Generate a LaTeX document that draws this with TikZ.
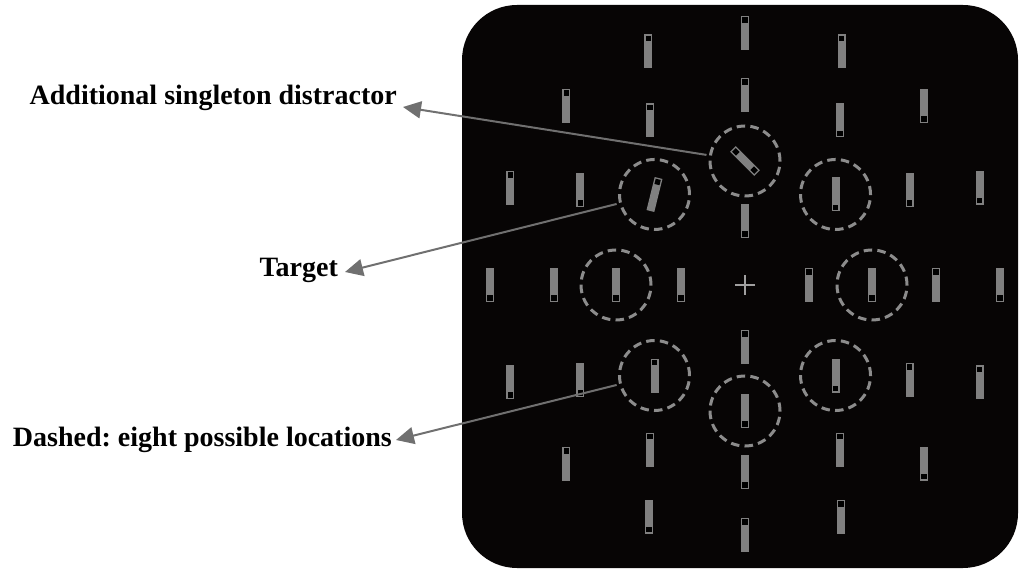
\documentclass[tikz,border=0pt]{standalone}
\usepackage{fontspec}
\setmainfont{Liberation Serif}
\usetikzlibrary{arrows.meta}
\frenchspacing
\definecolor{bgblack}{HTML}{070505}
\definecolor{bargray}{HTML}{808080}
\definecolor{circgray}{HTML}{8C8C8C}
\definecolor{arrgray}{HTML}{707070}
\definecolor{crossgray}{HTML}{A0A0A0}
\newcommand\stimbar[3]{%
  \begin{scope}[shift={#1},rotate=#2]
    \fill[bargray] (-4,-17) rectangle (4,17);
    \ifnum#3>-1 \fill[black] (-2.6,10.2) rectangle (2.6,15.6);\fi
    \ifnum#3<1 \fill[black] (-2.6,-15.6) rectangle (2.6,-10.2);\fi
  \end{scope}}
\begin{document}
\begin{tikzpicture}[x=1pt,y=1pt,
  loc/.style={circle, draw=circgray, dash pattern=on 8.5pt off 5.2pt, line width=3pt,
    minimum size=70pt, inner sep=0pt, outer sep=4pt},
  lab/.style={font=\fontsize{28}{30}\selectfont\bfseries, inner sep=0pt, anchor=base east},
  arr/.style={draw=arrgray, line width=2pt, -{Triangle[length=18pt,width=17pt]}, fill=arrgray}]
\useasboundingbox (0,0) rectangle (1019,570);
\fill[bgblack, rounded corners=55pt] (462,2) rectangle (1018,565);
\begin{scope}[shift={(745,285)}]
  % fixation cross
  \draw[crossgray, line width=1.3pt] (-10,0) -- (10,0) (0,-10) -- (0,10);
  % ring 1
  \stimbar{(0:64)}{0}{1}
  \stimbar{(90:64)}{0}{-1}
  \stimbar{(180:64)}{0}{-1}
  \stimbar{(270:62)}{0}{1}
  % ring 2 (possible locations)
  \node[loc] (c90) at (90:124) {};
  \node[loc] (c45) at (45:128) {};
  \node[loc] (c0) at (0:127) {};
  \node[loc] (c315) at (315:128) {};
  \node[loc] (c270) at (270:126) {};
  \node[loc] (c225) at (225:128) {};
  \node[loc] (c180) at (180:129) {};
  \node[loc] (c135) at (135:128) {};
  \stimbar{(90:124)}{45}{0}
  \stimbar{(135:128)}{-14}{1}
  \stimbar{(45:128)}{0}{-1}
  \stimbar{(0:127)}{0}{-1}
  \stimbar{(315:128)}{0}{-1}
  \stimbar{(270:126)}{0}{-1}
  \stimbar{(225:128)}{0}{1}
  \stimbar{(180:129)}{0}{-1}
  % ring 3
  \stimbar{(90:190)}{0}{1}
  \stimbar{(120:190)}{0}{1}
  \stimbar{(150:190)}{0}{-1}
  \stimbar{(180:191)}{0}{-1}
  \stimbar{(210:190)}{0}{-1}
  \stimbar{(240:190)}{0}{1}
  \stimbar{(270:187)}{0}{-1}
  \stimbar{(300:190)}{0}{1}
  \stimbar{(330:190)}{0}{1}
  \stimbar{(0:191)}{0}{1}
  \stimbar{(30:190)}{0}{-1}
  \stimbar{(60:190)}{0}{-1}
  % ring 4
  \stimbar{(90:252)}{0}{1}
  \stimbar{(112.5:253)}{0}{1}
  \stimbar{(135:253)}{0}{1}
  \stimbar{(157.5:254)}{0}{1}
  \stimbar{(180:255)}{0}{-1}
  \stimbar{(202.5:254)}{0}{-1}
  \stimbar{(225:253)}{0}{1}
  \stimbar{(247.5:251)}{0}{-1}
  \stimbar{(270:250)}{0}{1}
  \stimbar{(292.5:251)}{0}{1}
  \stimbar{(315:253)}{0}{-1}
  \stimbar{(337.5:254)}{0}{1}
  \stimbar{(0:255)}{0}{-1}
  \stimbar{(22.5:254)}{0}{-1}
  \stimbar{(45:253)}{0}{-1}
  \stimbar{(67.5:253)}{0}{1}
\end{scope}
% labels
\node[lab] (l1) at (397,465) {Additional singleton distractor};
\node[lab] (l2) at (338,293) {Target};
\node[lab] (l3) at (392,123) {Dashed: eight possible locations};
\coordinate (t1) at (403,463);
\coordinate (t2) at (345,298);
\coordinate (t3) at (396,130);
\draw[arr] (c90) -- (t1);
\draw[arr] (c135) -- (t2);
\draw[arr] (c225) -- (t3);
\end{tikzpicture}
\end{document}
